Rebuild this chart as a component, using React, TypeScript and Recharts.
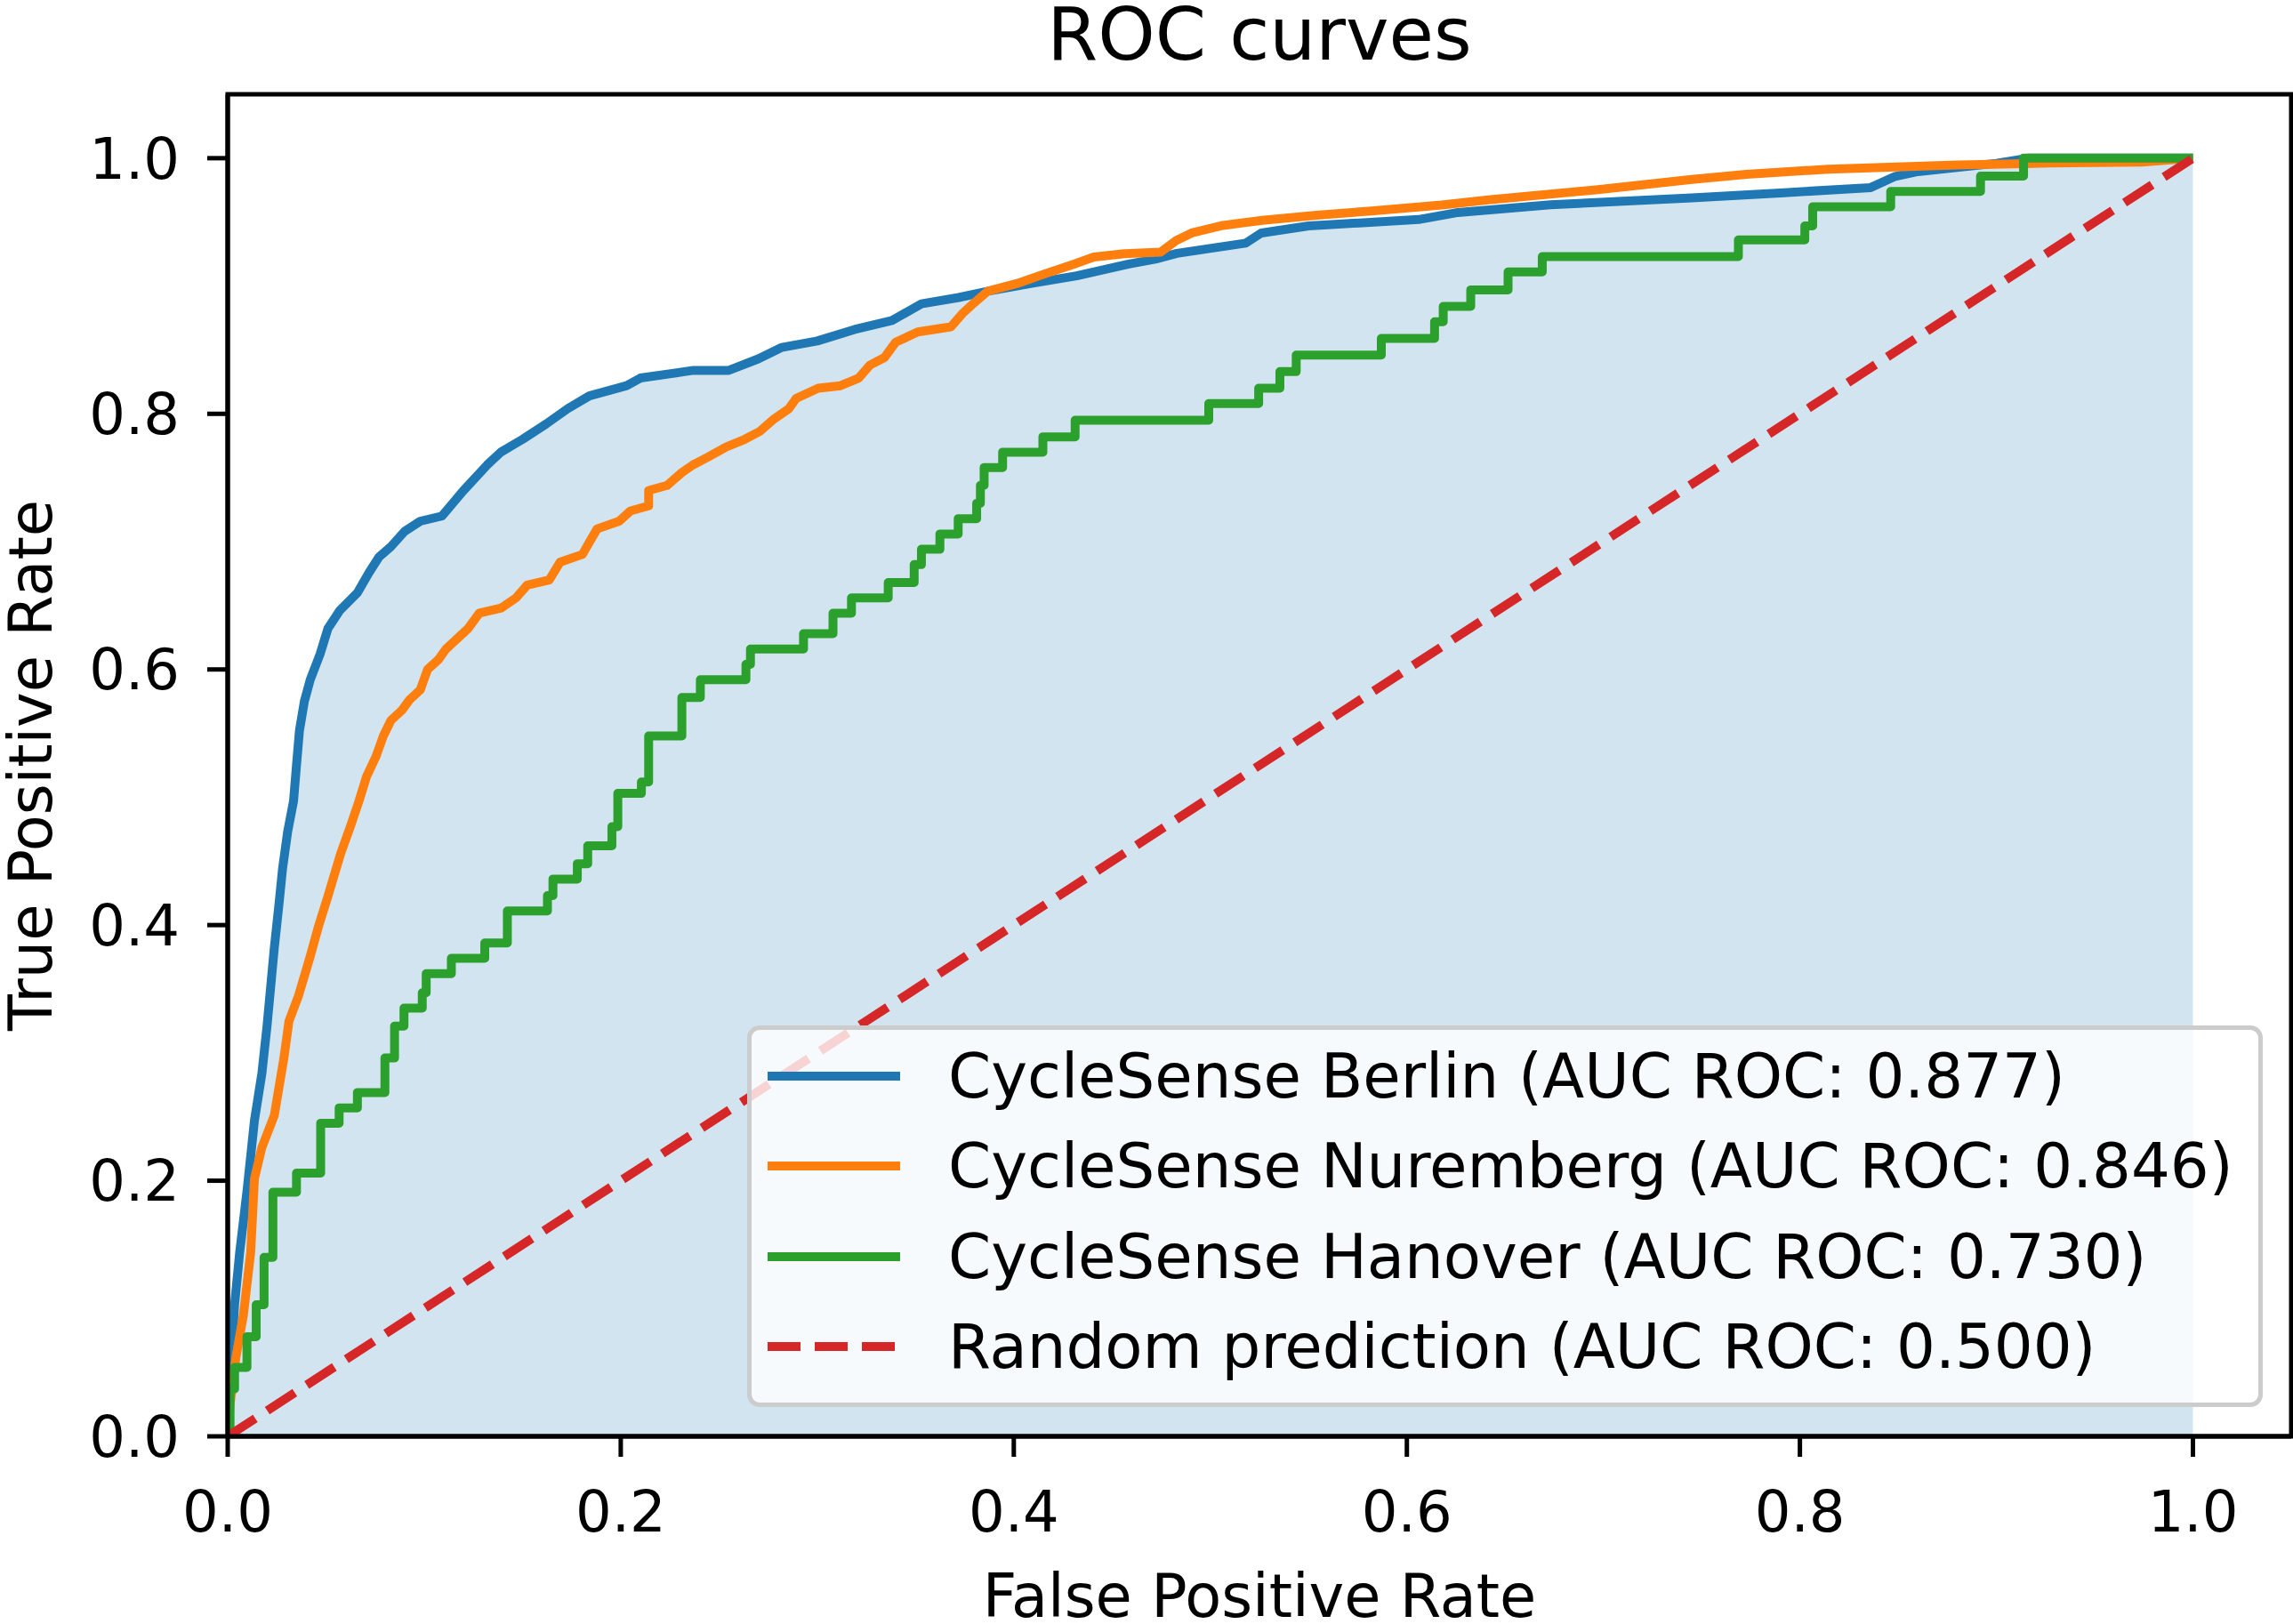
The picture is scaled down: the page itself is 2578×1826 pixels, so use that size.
import {
  Area,
  ComposedChart,
  Label,
  Legend,
  Line,
  ReferenceArea,
  XAxis,
  YAxis,
} from "recharts";

const BERLIN_FPR = [
  0, 0.0012, 0.0035, 0.0061, 0.0099, 0.0136, 0.0174, 0.02, 0.0237, 0.026, 0.0279, 0.0305, 0.0335,
  0.035, 0.0365, 0.039, 0.042, 0.047, 0.051, 0.057, 0.066, 0.072, 0.077, 0.083, 0.09, 0.098, 0.109,
  0.12, 0.132, 0.139, 0.15, 0.162, 0.173, 0.184, 0.203, 0.21, 0.237, 0.255, 0.27, 0.282, 0.3, 0.319,
  0.338, 0.353, 0.372, 0.387, 0.409, 0.432, 0.458, 0.472, 0.483, 0.518, 0.526, 0.55, 0.606, 0.626,
  0.673, 0.745, 0.792, 0.836, 0.848, 0.86, 0.9, 0.916, 1.0,
];
const BERLIN_TPR = [
  0, 0.045, 0.103, 0.144, 0.193, 0.247, 0.284, 0.321, 0.382, 0.415, 0.444, 0.473, 0.497,
  0.525, 0.552, 0.575, 0.592, 0.612, 0.632, 0.646, 0.66, 0.676, 0.688, 0.696, 0.708, 0.716, 0.72,
  0.74, 0.76, 0.77, 0.78, 0.792, 0.804, 0.814, 0.822, 0.828, 0.834, 0.834, 0.843, 0.852, 0.857, 0.866,
  0.873, 0.886, 0.891, 0.896, 0.902, 0.908, 0.917, 0.921, 0.9255, 0.9335, 0.9415, 0.947, 0.952, 0.9575,
  0.9635, 0.969, 0.973, 0.977, 0.9855, 0.9895, 0.996, 1.0, 1.0,
];

const NUREMBERG_FPR = [
  0, 0.0012, 0.0042, 0.008, 0.0117, 0.0136, 0.0174, 0.0237, 0.0286, 0.0312, 0.0361, 0.0417, 0.0462,
  0.0511, 0.0575, 0.0624, 0.0668, 0.0706, 0.0755, 0.0792, 0.083, 0.0886, 0.0924, 0.098, 0.1017,
  0.1074, 0.1111, 0.1167, 0.1223, 0.128, 0.1392, 0.1467, 0.1524, 0.1636, 0.1692, 0.1805, 0.1842,
  0.188, 0.1992, 0.2049, 0.2142, 0.2142, 0.2236, 0.2311, 0.2367, 0.2442, 0.2536, 0.263, 0.2705,
  0.278, 0.2855, 0.2892, 0.3005, 0.3118, 0.3211, 0.3267, 0.3342, 0.3399, 0.3511, 0.368, 0.3736,
  0.3792, 0.3868, 0.4018, 0.4148, 0.4303, 0.4407, 0.4563, 0.4747, 0.4826, 0.4905, 0.5064, 0.5264,
  0.5542, 0.5819, 0.6177, 0.6415, 0.6972, 0.7211, 0.745, 0.7728, 0.8145, 0.8801, 0.9278, 0.974, 1.0,
];
const NUREMBERG_TPR = [
  0, 0.025, 0.062, 0.095, 0.144, 0.2015, 0.226, 0.251, 0.296, 0.325, 0.345, 0.374, 0.399,
  0.423, 0.456, 0.477, 0.497, 0.516, 0.532, 0.548, 0.56, 0.568, 0.576, 0.584, 0.6,
  0.608, 0.616, 0.624, 0.632, 0.644, 0.648, 0.656, 0.666, 0.67, 0.684, 0.69, 0.7,
  0.71, 0.716, 0.724, 0.728, 0.74, 0.744, 0.754, 0.76, 0.766, 0.774, 0.78, 0.786,
  0.796, 0.804, 0.812, 0.82, 0.822, 0.828, 0.838, 0.844, 0.856, 0.864, 0.868, 0.878,
  0.886, 0.896, 0.902, 0.909, 0.917, 0.9226, 0.9253, 0.9265, 0.9355, 0.9415, 0.9474, 0.9514,
  0.9554, 0.9587, 0.9634, 0.9674, 0.9754, 0.9794, 0.9834, 0.9874, 0.9914, 0.9946, 0.9962, 0.997, 1.0,
];

// Hanover is a coarse step curve: each point is the top of a vertical rise
const HANOVER_FPR = [
  0, 0.0012, 0.0035, 0.0098, 0.0145, 0.0185, 0.023, 0.035, 0.0473, 0.0567, 0.066, 0.08, 0.0849,
  0.0897, 0.099, 0.101, 0.1138, 0.1308, 0.1423, 0.1627, 0.1655, 0.1779, 0.1832, 0.1955, 0.1985,
  0.2105, 0.2142, 0.2311, 0.2405, 0.2637, 0.266, 0.293, 0.308, 0.3174, 0.3361, 0.3493, 0.353,
  0.3624, 0.3717, 0.3811, 0.383, 0.3849, 0.3943, 0.4148, 0.4312, 0.4992, 0.5246, 0.5354, 0.5437,
  0.587, 0.6141, 0.6185, 0.6325, 0.6515, 0.6689, 0.7687, 0.8025, 0.8065, 0.8462, 0.8919, 0.9138, 1.0,
];
const HANOVER_TPR = [
  0, 0.037, 0.054, 0.078, 0.103, 0.14, 0.191, 0.206, 0.245, 0.257, 0.269, 0.296, 0.321,
  0.335, 0.347, 0.362, 0.374, 0.386, 0.411, 0.423, 0.436, 0.448, 0.462, 0.477, 0.503,
  0.512, 0.548, 0.578, 0.592, 0.604, 0.616, 0.628, 0.644, 0.656, 0.668, 0.682, 0.694,
  0.706, 0.718, 0.73, 0.744, 0.758, 0.77, 0.782, 0.795, 0.808, 0.82, 0.833, 0.846,
  0.859, 0.872, 0.884, 0.897, 0.911, 0.923, 0.936, 0.947, 0.962, 0.974, 0.986, 1.0, 1.0,
];

const RANDOM_FPR = [0, 1];
const RANDOM_TPR = [0, 1];

const MODEL_NAMES = [
  "CycleSense Berlin",
  "CycleSense Nuremberg",
  "CycleSense Hanover",
  "Random prediction",
];
const AUC_VALUES = [0.877, 0.846, 0.73, 0.5];
const COLORS = ["#1f77b4", "#ff7f0e", "#2ca02c", "#d62728"];
const TICKS = [0, 0.2, 0.4, 0.6, 0.8, 1.0];

const toPoints = (fpr: number[], tpr: number[]) => fpr.map((x, i) => ({ fpr: x, tpr: tpr[i] }));

const berlin = toPoints(BERLIN_FPR, BERLIN_TPR);
const nuremberg = toPoints(NUREMBERG_FPR, NUREMBERG_TPR);
const hanover = toPoints(HANOVER_FPR, HANOVER_TPR);
const random = toPoints(RANDOM_FPR, RANDOM_TPR);

const axisLine = { stroke: "#000", strokeWidth: 5 };
const tickStyle = { fontSize: 64, fill: "#000" };

function RocLegend() {
  return (
    <div
      style={{
        position: "relative",
        boxSizing: "border-box",
        width: 1704,
        height: 429,
        border: "5px solid #cccccc",
        borderRadius: 14,
        background: "rgba(255,255,255,0.8)",
        fontFamily: "DejaVu Sans",
      }}
    >
      {MODEL_NAMES.map((name, i) => (
        <div
          key={name}
          style={{ position: "absolute", left: 0, top: 2 + i * 101.3, height: 100, width: "100%" }}
        >
          <svg width={149} height={12} style={{ position: "absolute", left: 18, top: 44 }}>
            <line
              x1={0}
              y1={6}
              x2={149}
              y2={6}
              stroke={COLORS[i]}
              strokeWidth={10}
              strokeDasharray={i === 3 ? "37 16" : undefined}
            />
          </svg>
          <div
            style={{
              position: "absolute",
              left: 221,
              top: 0,
              height: 100,
              lineHeight: "100px",
              fontSize: 69,
              color: "#000",
              whiteSpace: "nowrap",
            }}
          >
            {`${name} (AUC ROC: ${AUC_VALUES[i].toFixed(3)})`}
          </div>
        </div>
      ))}
    </div>
  );
}

function YTitle(props: any) {
  const vb = props.viewBox || { x: 0, y: 106, width: 256, height: 1509 };
  const x = vb.x + 58;
  const y = vb.y + vb.height / 2;
  return (
    <text x={x} y={y} transform={`rotate(-90, ${x}, ${y})`} textAnchor="middle" fontSize={67} fill="#000">
      True Positive Rate
    </text>
  );
}

export default function App() {
  return (
    <div
      style={{
        position: "absolute",
        left: 0,
        top: 0,
        width: 2578,
        height: 1826,
        background: "#fff",
        fontFamily: "DejaVu Sans",
      }}
    >
      <svg width={2578} height={120} style={{ position: "absolute", left: 0, top: 0, zIndex: 2 }}>
        <text x={1416} y={67} textAnchor="middle" fontSize={82} fill="#000" fontFamily="DejaVu Sans">
          ROC curves
        </text>
      </svg>
      <ComposedChart width={2578} height={1826} margin={{ top: 106, right: 2, bottom: 0, left: 0 }}>
        <XAxis
          dataKey="fpr"
          type="number"
          domain={[0, 1.05]}
          ticks={TICKS}
          interval={0}
          allowDataOverflow
          tickFormatter={(v: number) => v.toFixed(1)}
          height={211}
          tickSize={23}
          tickMargin={39}
          tick={tickStyle}
          axisLine={axisLine}
          tickLine={axisLine}
        >
          <Label value="False Positive Rate" position="insideBottom" offset={8} fontSize={67} fill="#000" />
        </XAxis>
        <YAxis
          type="number"
          domain={[0, 1.05]}
          ticks={TICKS}
          interval={0}
          allowDataOverflow
          tickFormatter={(v: number) => v.toFixed(1)}
          width={256}
          tickSize={23}
          tickMargin={31}
          tick={tickStyle}
          axisLine={axisLine}
          tickLine={axisLine}
        >
          <Label content={<YTitle />} />
        </YAxis>
        <Area
          data={berlin}
          dataKey="tpr"
          type="linear"
          stroke="none"
          fill={COLORS[0]}
          fillOpacity={0.2}
          dot={false}
          activeDot={false}
          isAnimationActive={false}
        />
        <Line
          data={berlin}
          dataKey="tpr"
          type="linear"
          stroke={COLORS[0]}
          strokeWidth={10}
          strokeLinejoin="round"
          dot={false}
          activeDot={false}
          isAnimationActive={false}
        />
        <Line
          data={nuremberg}
          dataKey="tpr"
          type="linear"
          stroke={COLORS[1]}
          strokeWidth={10}
          strokeLinejoin="round"
          dot={false}
          activeDot={false}
          isAnimationActive={false}
        />
        <Line
          data={hanover}
          dataKey="tpr"
          type="stepAfter"
          stroke={COLORS[2]}
          strokeWidth={10}
          strokeLinejoin="round"
          dot={false}
          activeDot={false}
          isAnimationActive={false}
        />
        <Line
          data={random}
          dataKey="tpr"
          type="linear"
          stroke={COLORS[3]}
          strokeWidth={10}
          strokeDasharray="37 16"
          dot={false}
          activeDot={false}
          isAnimationActive={false}
        />
        <ReferenceArea
          x1={0}
          x2={1.05}
          y1={0}
          y2={1.05}
          fill="none"
          stroke="#000"
          strokeWidth={5}
          ifOverflow="visible"
        />
        <Legend
          layout="vertical"
          align="center"
          verticalAlign="middle"
          wrapperStyle={{ left: 840, top: 1153, width: 1704, height: 429 }}
          content={() => <RocLegend />}
        />
      </ComposedChart>
    </div>
  );
}
